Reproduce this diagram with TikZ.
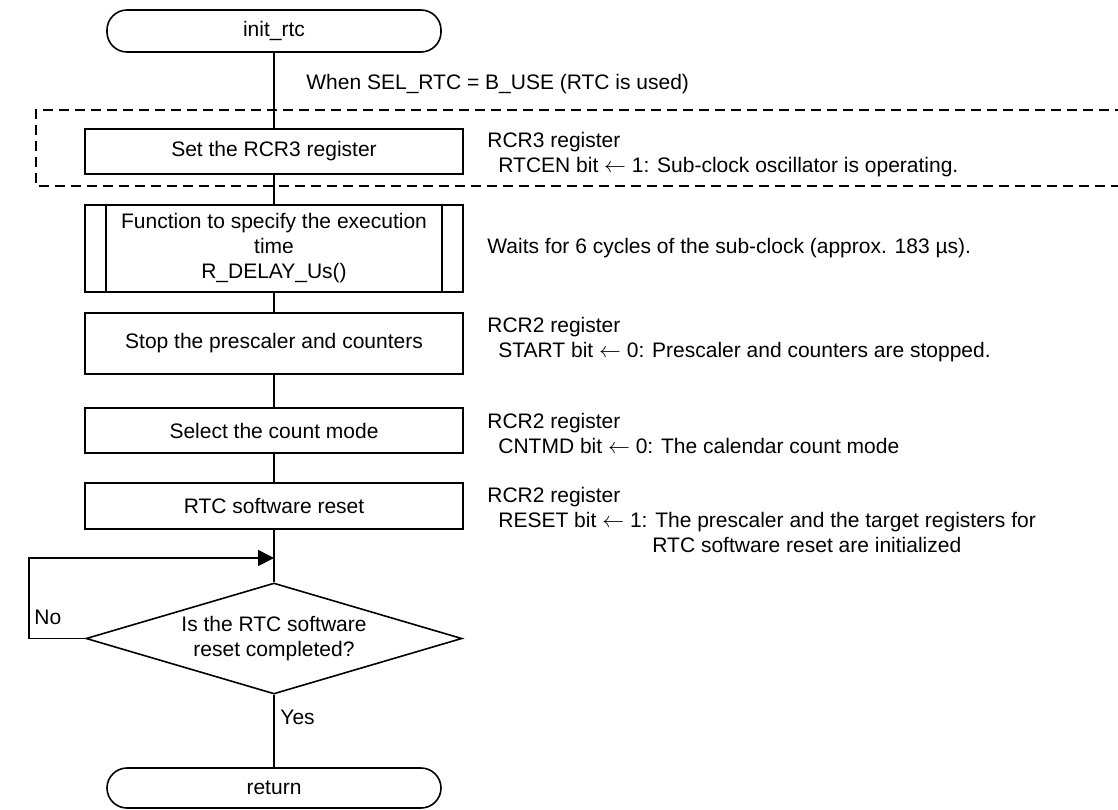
\documentclass[tikz,border=0pt]{standalone}
\usepackage{fontspec}
\setmainfont{Liberation Sans}
\usetikzlibrary{shapes.geometric,arrows.meta}

\tikzset{
  flowline/.style={line width=0.8pt},
  termbox/.style={draw, line width=0.8pt, rounded corners=10pt, minimum width=167pt, minimum height=21pt, inner sep=0pt},
  procbox/.style={draw, line width=0.8pt, minimum width=189pt, inner sep=0pt, align=center},
  decbox/.style={draw, diamond, aspect=3.4, line width=0.8pt, minimum width=188pt, minimum height=55.5pt, inner sep=0pt, align=center},
  note/.style={anchor=west, align=left, inner sep=0pt},
}

\begin{document}
\begin{tikzpicture}[x=0.5pt, y=-0.5pt, font=\fontsize{10.5pt}{12.5pt}\selectfont]
  \useasboundingbox (0,0) rectangle (1118,809);

  % Flow boxes
  \node[termbox] (init) at (274,31) {init\_rtc};
  \node[procbox, minimum height=22.5pt] (setrcr) at (274,151.5) {Set the RCR3 register};
  \node[procbox, minimum height=43.5pt] (delay) at (274,248.5) {Function to specify the execution\\time\\R\_DELAY\_Us()};
  \node[procbox, minimum height=30.5pt] (stop) at (274,343.5) {Stop the prescaler and counters};
  \node[procbox, minimum height=22.5pt] (mode) at (274,430.5) {Select the count mode};
  \node[procbox, minimum height=23pt] (swreset) at (274,506) {RTC software reset};
  \node[decbox] (done) at (274,638.5) {Is the RTC software\\reset completed?};
  \node[termbox, minimum height=20pt] (ret) at (274,788) {return};

  % Subroutine side bars
  \draw[flowline] ([xshift=11pt]delay.north west) -- ([xshift=11pt]delay.south west);
  \draw[flowline] ([xshift=-11pt]delay.north east) -- ([xshift=-11pt]delay.south east);

  % Conditional area (RTC used)
  \draw[flowline, dash pattern=on 5pt off 3pt] (1125,110) -- (36,110) -- (36,186) -- (1125,186);

  % Connectors
  \coordinate (merge) at (274,558);
  \coordinate (loopx) at (29,558);
  \draw[flowline] (init) -- (setrcr);
  \draw[flowline] (setrcr) -- (delay);
  \draw[flowline] (delay) -- (stop);
  \draw[flowline] (stop) -- (mode);
  \draw[flowline] (mode) -- (swreset);
  \draw[flowline] (swreset) -- (done);
  \draw[flowline] (done) -- (ret);
  \draw[flowline, -{Triangle[length=8pt, width=8pt]}] (done.west) -| (loopx) -- (merge);

  % Labels
  \node[note] (cond) at (306,84) {When SEL\_RTC = B\_USE (RTC is used)};
  \node[note] (no) at (34,617) {No};
  \node[note] (yes) at (280,717) {Yes};

  % Register notes
  \node[note] (n1) at (487,154.5) {RCR3 register\\\hspace*{5.5pt}RTCEN bit $\leftarrow$ 1: Sub-clock oscillator is operating.};
  \node[note] (n2) at (487,248) {Waits for 6 cycles of the sub-clock (approx. 183 µs).};
  \node[note] (n3) at (487,340) {RCR2 register\\\hspace*{5.5pt}START bit $\leftarrow$ 0: Prescaler and counters are stopped.};
  \node[note] (n4) at (487,433) {RCR2 register\\\hspace*{5.5pt}CNTMD bit $\leftarrow$ 0: The calendar count mode};
  \node[note] (n5) at (487,520) {RCR2 register\\\hspace*{5.5pt}RESET bit $\leftarrow$ 1: The prescaler and the target registers for\\\hspace*{82.5pt}RTC software reset are initialized};
\end{tikzpicture}
\end{document}
